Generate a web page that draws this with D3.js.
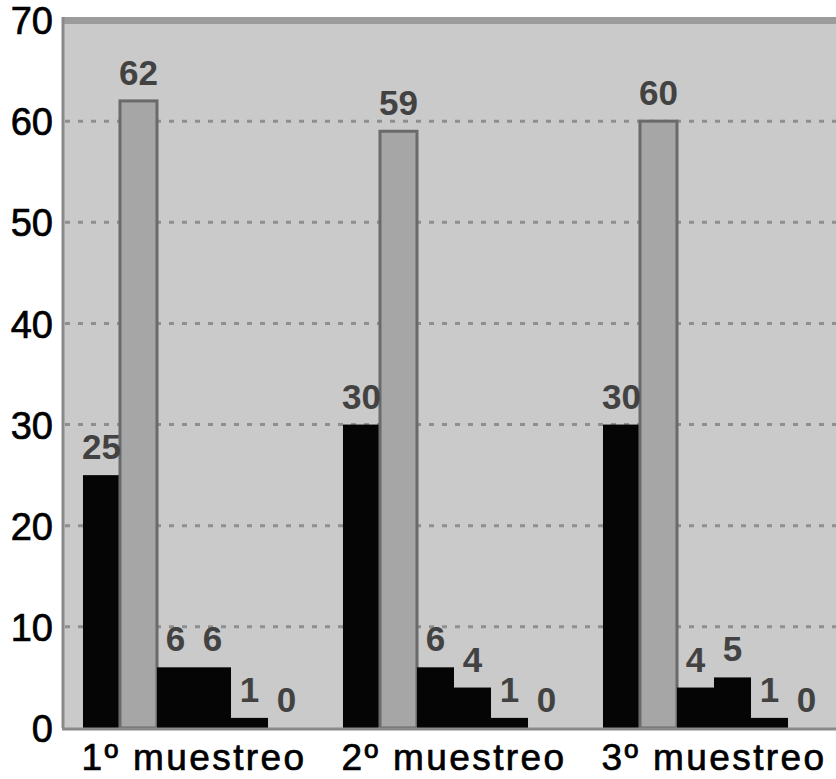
<!DOCTYPE html>
<html>
<head>
<meta charset="utf-8">
<script src="https://cdn.jsdelivr.net/npm/d3@7"></script>
<style>
  body { margin: 0; background: #fff; }
  svg { display: block; font-family: "Liberation Sans", Arial, sans-serif; }
</style>
</head>
<body>
<div id="chart"></div>
<script>
const categories = ["1º muestreo", "2º muestreo", "3º muestreo"];
const seriesNames = ["s1", "s2", "s3", "s4", "s5", "s6"];
const s1 = [25, 30, 30];
const s2 = [62, 59, 60];
const s3 = [6, 6, 4];
const s4 = [6, 4, 5];
const s5 = [1, 1, 1];
const s6 = [0, 0, 0];
const seriesColours = ["#050505", "#a6a6a6", "#050505", "#050505", "#050505", "#050505"];
const yTicks = [0, 10, 20, 30, 40, 50, 60, 70];

const values = [s1, s2, s3, s4, s5, s6];
// one row per bar: category, series index, value
const rows = categories.flatMap((c, i) => values.map((s, j) => ({cat: c, idx: j, value: s[i]})));

const width = 836;
const height = 779;
const margin = {top: 20, bottom: 51, left: 62, right: 0};

const svg = d3.select("#chart").append("svg")
  .attr("width", width)
  .attr("height", height)
  .attr("viewBox", [0, 0, width, height]);

const y = d3.scaleLinear()
  .domain([0, 70])
  .range([height - margin.bottom, margin.top]);

const x = d3.scaleBand()
  .domain(categories)
  .range([64, 844])
  .paddingInner(0.146)
  .paddingOuter(0.073);

const xInner = d3.scaleBand()
  .domain(d3.range(seriesNames.length))
  .range([0, x.bandwidth()]);

// plot background
svg.append("rect")
  .attr("x", margin.left)
  .attr("y", margin.top - 3)
  .attr("width", width - margin.left)
  .attr("height", y(0) - margin.top + 3)
  .attr("fill", "#cacaca");

// top band and left edge, as in the scan
svg.append("rect")
  .attr("x", margin.left)
  .attr("y", margin.top - 3)
  .attr("width", width - margin.left)
  .attr("height", 7)
  .attr("fill", "#9c9c9c");
svg.append("line")
  .attr("x1", margin.left + 1).attr("x2", margin.left + 1)
  .attr("y1", margin.top - 3).attr("y2", y(0))
  .attr("stroke", "#8a8a8a")
  .attr("stroke-width", 3);

// dotted gridlines
svg.append("g")
  .selectAll("line")
  .data(yTicks.filter(d => d > 0 && d < 70))
  .join("line")
  .attr("x1", margin.left + 3)
  .attr("x2", width)
  .attr("y1", d => y(d))
  .attr("y2", d => y(d))
  .attr("stroke", "#8f8f8f")
  .attr("stroke-width", 3)
  .attr("stroke-dasharray", "5 8");

// bars
svg.append("g")
  .selectAll("rect")
  .data(rows.filter(d => d.value > 0))
  .join("rect")
  .attr("x", d => x(d.cat) + xInner(d.idx))
  .attr("y", d => y(d.value))
  .attr("width", xInner.bandwidth())
  .attr("height", d => y(0) - y(d.value))
  .attr("fill", d => seriesColours[d.idx])
  .attr("stroke", d => d.idx === 1 ? "#6a6a6a" : "none")
  .attr("stroke-width", 3);

// value labels
svg.append("g")
  .selectAll("text")
  .data(rows)
  .join("text")
  .attr("x", d => x(d.cat) + xInner(d.idx) + xInner.bandwidth() / 2)
  .attr("y", d => y(d.value) - 16)
  .attr("text-anchor", "middle")
  .attr("font-size", 35)
  .attr("font-weight", "bold")
  .attr("fill", "#424242")
  .text(d => d.value);

// bottom edge of the plot
svg.append("line")
  .attr("x1", margin.left).attr("x2", width)
  .attr("y1", y(0) + 1).attr("y2", y(0) + 1)
  .attr("stroke", "#8a8a8a")
  .attr("stroke-width", 3);

// y axis labels
const yAxis = svg.append("g")
  .attr("transform", `translate(${margin.left}, 0)`)
  .call(d3.axisLeft(y).tickValues(yTicks).tickSize(0).tickPadding(9));
yAxis.select(".domain").remove();
yAxis.selectAll("text")
  .attr("font-family", "Liberation Sans, Arial, sans-serif")
  .attr("font-size", 38)
  .attr("fill", "#000")
  .attr("stroke", "#000")
  .attr("stroke-width", 0.7)
  .attr("dy", "0.36em");

// x axis labels
const xAxis = svg.append("g")
  .attr("transform", `translate(0, ${y(0)})`)
  .call(d3.axisBottom(x).tickSize(0).tickPadding(15));
xAxis.select(".domain").remove();
xAxis.selectAll("text")
  .attr("font-family", "Liberation Sans, Arial, sans-serif")
  .attr("font-size", 37)
  .attr("letter-spacing", 2.4)
  .attr("fill", "#000")
  .attr("stroke", "#000")
  .attr("stroke-width", 0.7)
  .attr("dy", "0.72em");
</script>
</body>
</html>
